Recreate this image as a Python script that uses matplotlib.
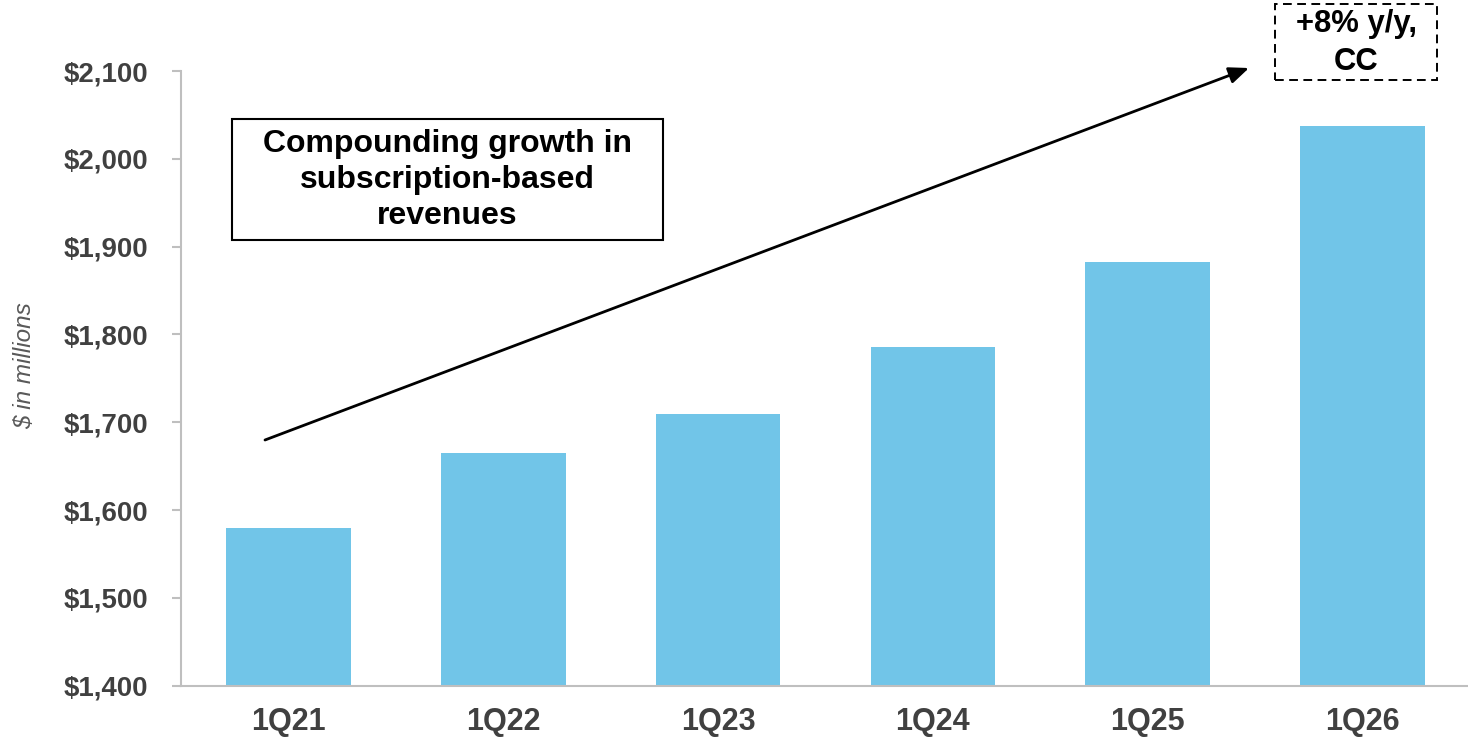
import matplotlib
matplotlib.use("Agg")
import matplotlib.pyplot as plt
from matplotlib.patches import Rectangle

quarters = ["1Q21", "1Q22", "1Q23", "1Q24", "1Q25", "1Q26"]
revenue = [1580, 1665, 1709, 1786, 1883, 2037]
y_ticks = [1400, 1500, 1600, 1700, 1800, 1900, 2000, 2100]
y_tick_labels = ["$1,400", "$1,500", "$1,600", "$1,700", "$1,800", "$1,900", "$2,000", "$2,100"]

plt.rcParams["font.family"] = ["Liberation Sans", "DejaVu Sans"]

W, H = 1468, 740
fig = plt.figure(figsize=(W / 100, H / 100), dpi=100)
ax = fig.add_axes([181 / W, 54.3 / H, (1470 - 181) / W, (685.7 - 71) / H])

bar_color = "#71C5E8"
axis_gray = "#BFBFBF"
label_gray = "#404040"

x = range(len(quarters))
ax.bar(x, revenue, width=0.58, color=bar_color, zorder=2)

ax.set_xlim(-0.5, len(quarters) - 0.5)
ax.set_ylim(1400, 2100)
ax.set_yticks(y_ticks)
ax.set_yticklabels(y_tick_labels)
ax.set_xticks(list(x))
ax.set_xticklabels(quarters)

for side in ("top", "right"):
    ax.spines[side].set_visible(False)
for side in ("left", "bottom"):
    ax.spines[side].set_color(axis_gray)
    ax.spines[side].set_linewidth(1.5)

ax.tick_params(axis="y", direction="out", length=6.5, width=1.5, color=axis_gray,
               labelsize=19.9, labelcolor=label_gray, pad=17)
ax.tick_params(axis="x", length=0, labelsize=22, labelcolor=label_gray, pad=15)
for lbl in ax.get_yticklabels() + ax.get_xticklabels():
    lbl.set_fontweight("bold")

fig.text(25 / W, 1 - 366 / H, "$ in millions", rotation=90, ha="center", va="center",
         fontsize=17.5, style="italic", color="#595959")

# Headline callout box
fig.patches.append(Rectangle((232 / W, 1 - 240 / H), (663 - 232) / W, (240 - 119) / H,
                             transform=fig.transFigure, fill=False, edgecolor="black",
                             linewidth=1.5, zorder=5))
fig.text(447 / W, 1 - 180 / H, "Compounding growth in\nsubscription-based\nrevenues",
         ha="center", va="center", fontsize=23, fontweight="bold", color="black",
         linespacing=1.28)

# Growth arrow
ax.annotate("", xy=(1249 / W, 1 - 68 / H), xytext=(265 / W, 1 - 440 / H),
            xycoords="figure fraction", textcoords="figure fraction",
            arrowprops=dict(arrowstyle="-|>,head_length=1.2,head_width=0.5",
                            color="black", linewidth=2, shrinkA=0, shrinkB=0))

# Growth-rate callout (dashed)
fig.patches.append(Rectangle((1275 / W, 1 - 80 / H), (1437 - 1275) / W, (80 - 3.5) / H,
                             transform=fig.transFigure, fill=False, edgecolor="black",
                             linewidth=1.4, linestyle=(0, (4.5, 2.8)), zorder=5))
fig.text(1356 / W, 1 - 43 / H, "+8% y/y,\nCC", ha="center", va="center",
         fontsize=22.3, fontweight="bold", color="black", linespacing=1.32)

fig.savefig("out.png", dpi=100)
